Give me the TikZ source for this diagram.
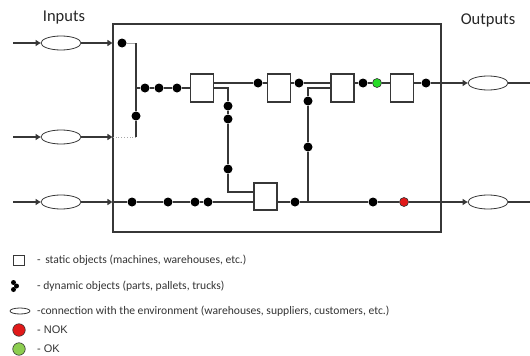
\documentclass[tikz,border=0pt]{standalone}
\usepackage{fontspec}
\setmainfont{Carlito}
\newfontfamily\arialfont{Liberation Sans}
\usetikzlibrary{arrows.meta,shapes.geometric}

\definecolor{okgreen}{RGB}{40,220,40}
\definecolor{legendgreen}{RGB}{140,205,80}
\definecolor{nokred}{RGB}{225,25,25}
\definecolor{inkgray}{RGB}{55,55,55}

\tikzset{
  flow/.style={draw=inkgray, line width=1.2pt},
  feed/.style={flow, -{Triangle[length=5pt,width=6pt]}},
  dot/.style={circle, fill=black, inner sep=0pt, minimum size=9pt},
  okdot/.style={dot, fill=okgreen, draw=black!80, line width=0.6pt},
  nokdot/.style={dot, fill=nokred, draw=black!80, line width=0.6pt},
  station/.style={draw=inkgray, fill=white, line width=1.1pt, inner sep=0pt,
    minimum width=23pt, minimum height=28pt},
  env/.style={ellipse, draw=inkgray, line width=0.8pt, inner sep=0pt,
    minimum width=40pt, minimum height=14pt},
  legendtext/.style={anchor=west, inner sep=0pt, text=black!80,
    font=\fontsize{11.6}{13}\selectfont},
}

\begin{document}
\begin{tikzpicture}[x=1pt, y=-1pt]
        \useasboundingbox (0,0) rectangle (530,356);

        % system boundary
        \node[draw=inkgray, line width=1.1pt, minimum width=328pt, minimum height=208pt,
              inner sep=0pt] (sys) at (277,128) {};

        \node[font=\fontsize{16.5}{18}\selectfont, text=black!85] (inputs) at (64,18) {Inputs};
        \node[font=\fontsize{16.5}{18}\selectfont, text=black!85] (outputs) at (488,20) {Outputs};

        % environment connections
        \coordinate (s1) at (13,43);
        \coordinate (s2) at (13,137);
        \coordinate (s3) at (13,202);
        \node[env] (e1) at (61,43) {};
        \node[env] (e2) at (61,137) {};
        \node[env] (e3) at (61,202) {};
        \node[env] (o1) at (488,83) {};
        \node[env] (o2) at (488,202) {};
        \coordinate (t1) at (530,83);
        \coordinate (t2) at (530,202);
        \coordinate (b1) at (sys.west |- e1);
        \coordinate (b2) at (sys.west |- e2);
        \coordinate (b3) at (sys.west |- e3);

        % static objects
        \node[station] (m1) at (202,88) {};
        \node[station] (m2) at (279,88) {};
        \node[station, minimum height=27pt] (m3) at (265.5,196.5) {};
        \node[station] (m4) at (342.5,88) {};
        \node[station] (m5) at (402,88) {};

        % dynamic objects
        \node[dot] (ia) at (122,43) {};
        \node[dot] (ib) at (136,116) {};
        \node[dot] (fa) at (145,88) {};
        \node[dot] (fb) at (159,88) {};
        \node[dot] (fc) at (177,88) {};
        \node[dot] (ta) at (258,83) {};
        \node[dot] (tb) at (299,83) {};
        \node[dot] (tc) at (363,83) {};
        \node[okdot] (tok) at (377,83) {};
        \node[dot] (td) at (426,83) {};
        \node[dot] (va) at (228,106) {};
        \node[dot] (vb) at (228,119) {};
        \node[dot] (vc) at (228,169) {};
        \node[dot] (wa) at (308,101) {};
        \node[dot] (wb) at (308,147) {};
        \node[dot] (ba) at (132,202) {};
        \node[dot] (bb) at (168,202) {};
        \node[dot] (bc) at (195,202) {};
        \node[dot] (bd) at (208,202) {};
        \node[dot] (be) at (295,202) {};
        \node[dot] (bf) at (373,202) {};
        \node[nokdot] (bnok) at (404,202) {};

        % corners
        \coordinate (ka) at (136,43);
        \coordinate (kb) at (136,137);
        \coordinate (kc) at (136,88);
        \coordinate (kd) at (228,88);
        \coordinate (ke) at (228,192);
        \coordinate (kf) at (308,202);
        \coordinate (kg) at (308,88);

        % inputs
        \draw[feed] (s1) -- (e1);
        \draw[feed] (e1) -- (b1);
        \draw[feed] (s2) -- (e2);
        \draw[feed] (e2) -- (b2);
        \draw[feed] (s3) -- (e3);
        \draw[feed] (e3) -- (b3);
        \draw[draw=black!35, line width=0.8pt] (ia) -- (ka);
        \draw[flow] (ka) -- (ib) -- (kb);
        \draw[draw=black!35, line width=0.8pt, dotted] (kb) -- (b2);

        % upper line
        \draw[flow] (kc) -- (fa) -- (fb) -- (fc) -- (m1);
        \draw[flow] (m1.east |- ta) -- (ta) -- (m2.west |- ta);
        \draw[flow] (m2.east |- tb) -- (tb) -- (m4.west |- tb);
        \draw[flow] (m4.east |- tc) -- (tc) -- (tok) -- (m5.west |- tok);
        \draw[flow] (m5.east |- td) -- (td);
        \draw[feed] (td) -- (o1);
        \draw[flow] (o1) -- (t1);

        % branches
        \draw[flow] (m1.east |- kd) -- (kd) -- (va) -- (vb) -- (vc) -- (ke) -- (m3.west |- ke);
        \draw[flow] (kf) -- (wb) -- (wa) -- (kg) -- (m4.west |- kg);

        % lower line
        \draw[flow] (b3) -- (ba) -- (bb) -- (bc) -- (bd) -- (m3.west |- bd);
        \draw[flow] (m3.east |- be) -- (be) -- (kf) -- (bf) -- (bnok);
        \draw[feed] (bnok) -- (o2);
        \draw[flow] (o2) -- (t2);

        % legend
        \node[draw=inkgray, line width=0.8pt, minimum width=11pt, minimum height=10pt,
              inner sep=0pt] (lstatic) at (18.5,260) {};
        \node[dot, minimum size=5pt] (ldyn1) at (13.5,282.5) {};
        \node[dot, minimum size=5pt] (ldyn2) at (16.5,286) {};
        \node[dot, minimum size=5pt] (ldyn3) at (13.5,289.5) {};
        \node[env, minimum width=20pt, minimum height=6pt] (lenv) at (20,311) {};
        \node[nokdot, minimum size=12.5pt] (lnok) at (19,330) {};
        \node[okdot, fill=legendgreen, minimum size=12.5pt] (lok) at (19,349) {};

        \node[legendtext] (tstatic) at (37,260) {-\, static objects (machines, warehouses, etc.)};
        \node[legendtext] (tdyn) at (37,286) {- dynamic objects (parts, pallets, trucks)};
        \node[legendtext] (tenv) at (37,311) {-connection with the environment (warehouses, suppliers, customers, etc.)};
        \node[legendtext, font=\arialfont\fontsize{11}{12}\selectfont] (tnok) at (37,330) {- NOK};
        \node[legendtext, font=\arialfont\fontsize{11}{12}\selectfont] (tlok) at (37,349) {- OK};
\end{tikzpicture}
\end{document}
